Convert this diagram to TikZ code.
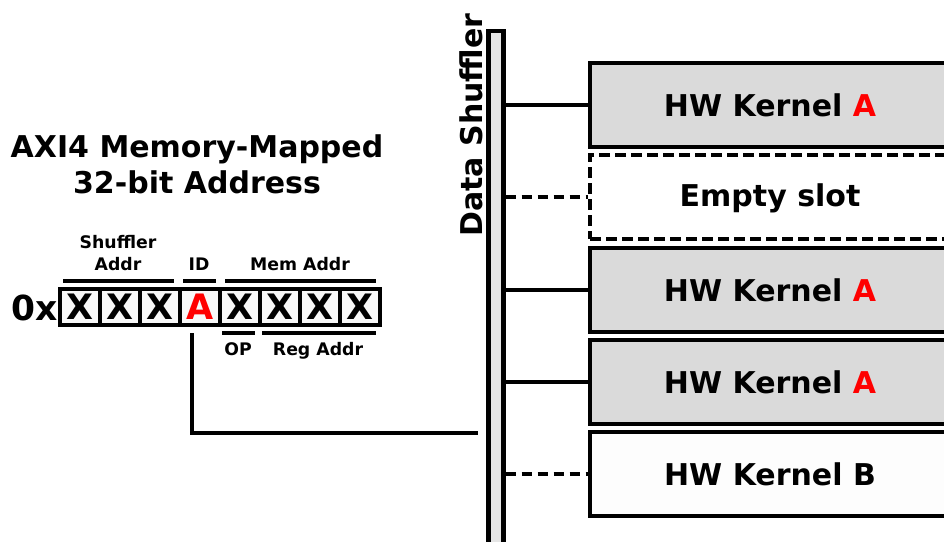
\documentclass[tikz,border=0pt]{standalone}
\usepackage{fontspec}
\setmainfont{DejaVu Sans}
\definecolor{cellfill}{HTML}{F8F8F8}
\definecolor{kernAfill}{HTML}{DADADA}
\definecolor{kernBfill}{HTML}{FDFDFD}
\definecolor{busfill}{HTML}{E5E5E5}
\begin{document}
\begin{tikzpicture}[x=1pt,y=-1pt,
  big/.style={font=\bfseries\fontsize{30}{36}\selectfont},
  small/.style={font=\bfseries\fontsize{17.3}{20}\selectfont},
  wire/.style={line width=4.4pt},
  dashwire/.style={line width=4.4pt,dash pattern=on 10pt off 6pt},
  cell/.style={draw,line width=4.4pt,fill=cellfill,minimum width=40pt,minimum height=36pt,
    inner sep=0pt,font=\bfseries\fontsize{35}{35}\selectfont},
  kernel/.style={draw,line width=4.4pt,minimum width=360pt,minimum height=84pt,inner sep=0pt,
    big,text height=22pt,text depth=0pt},
  bracket/.style={line width=4.4pt}]
\useasboundingbox (0,0) rectangle (944,541);
\clip (0,0) rectangle (944,541);

% heading
\node[big,anchor=base] (t1) at (197,157) {AXI4 Memory-Mapped};
\node[big,anchor=base] (t2) at (197,193) {32-bit Address};

% address digits
\node[font=\bfseries\fontsize{34.5}{34}\selectfont,anchor=base] (hex) at (35,320) {0x};
\node[cell] (d1) at (80,307) {X};
\node[cell] (d2) at (120,307) {X};
\node[cell] (d3) at (160,307) {X};
\node[cell,text=red] (d4) at (200,307) {A};
\node[cell] (d5) at (240,307) {X};
\node[cell] (d6) at (280,307) {X};
\node[cell] (d7) at (320,307) {X};
\node[cell] (d8) at (360,307) {X};

% field brackets and labels
\draw[bracket] (63,281) -- (174,281);
\draw[bracket] (183,281) -- (216,281);
\draw[bracket] (225,281) -- (376,281);
\draw[bracket] (222,333) -- (255,333);
\draw[bracket] (262,333) -- (376,333);
\node[small,anchor=base] (lsh) at (118,248) {Shuffler};
\node[small,anchor=base] (lsa) at (118,270) {Addr};
\node[small,anchor=base] (lid) at (199,270) {ID};
\node[small,anchor=base] (lmem) at (300,270) {Mem Addr};
\node[small,anchor=base] (lop) at (238,355) {OP};
\node[small,anchor=base] (lreg) at (318,355) {Reg Addr};

% data shuffler bus
\node[draw,line width=4.4pt,fill=busfill,minimum width=15pt,minimum height=540pt,inner sep=0pt]
  (bus) at (496,301) {};
\node[big,rotate=90,anchor=base] (buslabel) at (482,125) {Data Shuffler};

% kernel slots
\node[kernel,fill=kernAfill] (k1) at (770,105) {HW Kernel \textcolor{red}{A}};
\node[kernel,fill=white,dash pattern=on 11pt off 5pt,text depth=3pt] (k2) at (770,197) {Empty slot};
\node[kernel,fill=kernAfill] (k3) at (770,290) {HW Kernel \textcolor{red}{A}};
\node[kernel,fill=kernAfill] (k4) at (770,382) {HW Kernel \textcolor{red}{A}};
\node[kernel,fill=kernBfill] (k5) at (770,474) {HW Kernel B};

% bus to slot links
\draw[wire] (bus.east |- k1.west) -- (k1.west);
\draw[dashwire] (bus.east |- k2.west) -- (k2.west);
\draw[wire] (bus.east |- k3.west) -- (k3.west);
\draw[wire] (bus.east |- k4.west) -- (k4.west);
\draw[dashwire] (bus.east |- k5.west) -- (k5.west);

% ID field routed to the shuffler
\coordinate (idtap) at (192,333);
\coordinate (bustap) at (478,433);
\draw[wire] (idtap) |- (bustap);
\end{tikzpicture}
\end{document}
